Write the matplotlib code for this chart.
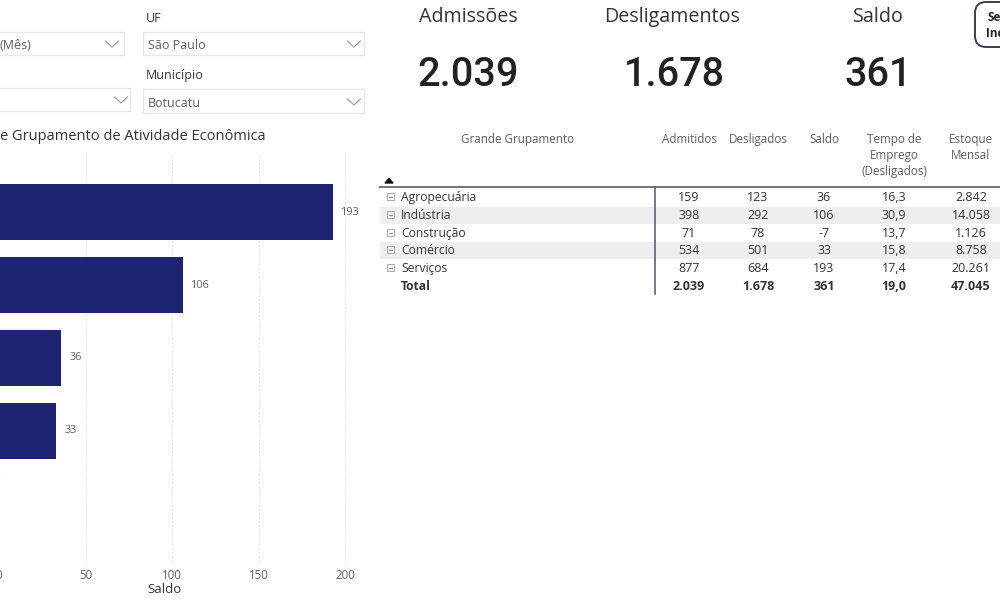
import matplotlib
matplotlib.use('Agg')
import matplotlib.pyplot as plt
from matplotlib.patches import FancyBboxPatch, Rectangle

# %% DATA
groups = ['Serviços', 'Indústria', 'Agropecuária', 'Comércio', 'Construção']
saldo_bars = [193, 106, 36, 33, -7]
x_ticks = [0, 50, 100, 150, 200]

table_rows = ['Agropecuária', 'Indústria', 'Construção', 'Comércio', 'Serviços', 'Total']
admitidos = ['159', '398', '71', '534', '877', '2.039']
desligados = ['123', '292', '78', '501', '684', '1.678']
saldo = ['36', '106', '-7', '33', '193', '361']
tempo = ['16,3', '30,9', '13,7', '15,8', '17,4', '19,0']
estoque = ['2.842', '14.058', '1.126', '8.758', '20.261', '47.045']

kpi_titles = ['Admissões', 'Desligamentos', 'Saldo']
kpi_values = ['2.039', '1.678', '361']

# %% PLOTTING PARAMETERS
W, H = 1000, 600
BAR = '#1f2472'
DARK = '#333333'
GREY = '#5e5e5e'
plt.rcParams['font.family'] = ['Open Sans', 'DejaVu Sans']

fig = plt.figure(figsize=(W/100, H/100), dpi=100, facecolor='white')

# pixel overlay for the dashboard parts
bg = fig.add_axes([0, 0, 1, 1])
bg.set_xlim(0, W)
bg.set_ylim(H, 0)
bg.axis('off')

# %% SLICERS
for x0, x1, y0, y1 in [(-5, 123.5, 32, 55), (-5, 130, 88, 111), (143, 364, 32, 55), (143, 364, 89, 113)]:
    bg.add_patch(Rectangle((x0, y0), x1-x0, y1-y0, fc='white', ec='#e8e8e8', lw=1))
for cx, cy in [(112, 44), (121, 100), (354, 44), (354, 102)]:
    bg.plot([cx-6.5, cx, cx+6.5], [cy-3, cy+3, cy-3], color='#999999', lw=0.8)

bg.text(0, 49, '(Mês)', fontsize=9, color=GREY, va='baseline')
bg.text(148, 49, 'São Paulo', fontsize=9, color=GREY, va='baseline')
bg.text(148, 107, 'Botucatu', fontsize=9, color=GREY, va='baseline')
bg.text(146, 22, 'UF', fontsize=9, color=DARK, va='baseline')
bg.text(146, 79, 'Município', fontsize=9, color=DARK, va='baseline')
bg.text(0, 140, 'e Grupamento de Atividade Econômica', fontsize=10.5, color=DARK, va='baseline')

# %% KPI CARDS
for cx, t in zip([468, 672, 878], kpi_titles):
    bg.text(cx, 22, t, fontsize=14.2, color=DARK, ha='center', va='baseline')
for cx, v in zip([468, 674, 878], kpi_values):
    bg.text(cx, 86, v, fontsize=28.5, color='#222222', ha='center', va='baseline',
            family=['Roboto', 'Open Sans'], fontweight='medium')

bg.add_patch(FancyBboxPatch((975, 2), 50, 45, boxstyle='round,pad=0,rounding_size=11',
                            fc='white', ec='#3b3b5c', lw=1.4))
bg.text(988, 21, 'Se', fontsize=8.5, color='#222222', fontweight='bold', va='baseline')
bg.text(986, 37, 'Inc', fontsize=8.5, color='#222222', fontweight='bold', va='baseline')

# %% TABLE
row_y = [197, 215, 233, 250, 268, 286]
col_x = [689, 758, 824, 894, 971]
for y in [215, 250]:
    bg.add_patch(Rectangle((380, y-8.5), 620, 17.5, fc='#eeeeee', ec='none'))
bg.plot([380, 1000], [187, 187], color='#77777f', lw=1.5)
bg.plot([655, 655], [187, 294], color='#55555f', lw=1.1)
bg.fill([385, 389, 393], [183, 178.5, 183], color='#111111')

bg.text(518, 143, 'Grande Grupamento', fontsize=8.4, color=GREY, ha='center', va='baseline')
headers = ['Admitidos', 'Desligados', 'Saldo', 'Tempo de\nEmprego\n(Desligados)', 'Estoque\nMensal']
for x, h in zip(col_x, headers):
    bg.text(x, 133, h, fontsize=8.4, color=GREY, ha='center', va='top', linespacing=1.28)

columns = [admitidos, desligados, saldo, tempo, estoque]
for i, (y, name) in enumerate(zip(row_y, table_rows)):
    total = name == 'Total'
    wt = 'bold' if total else 'normal'
    bg.text(401, y+4, name, fontsize=8.7, color='#333333', va='baseline', fontweight=wt)
    if not total:
        bg.add_patch(Rectangle((386.5, y-4), 7, 7, fc='none', ec='#aaaaaa', lw=0.7))
        bg.plot([388.5, 391.5], [y-0.5, y-0.5], color='#888888', lw=0.7)
    for x, col in zip(col_x, columns):
        bg.text(x, y+4, col[i], fontsize=9, color='#333333', ha='center', va='baseline', fontweight=wt)

# %% BAR CHART
# axes starts left of the canvas, the category labels are cropped away in the reference
left = -50
right = 360
top, bottom = 155, 565
ax = fig.add_axes([left/W, 1-bottom/H, (right-left)/W, (bottom-top)/H])
ax.patch.set_alpha(0)
ax.set_xlim(-28.4, 208.6)
ax.set_ylim(4.836, -0.781)

ypos = list(range(len(groups)))
ax.barh(ypos, saldo_bars, height=0.767, color=BAR, lw=0, zorder=3)
for y, v in zip(ypos, saldo_bars):
    if v > 0:
        ax.annotate(str(v), (v, y), xytext=(8, 0), textcoords='offset pixels', fontsize=7.8,
                    color=GREY, va='center', zorder=4)

ax.set_xticks(x_ticks)
ax.set_yticks([])
ax.tick_params(axis='x', length=0, labelsize=8.3, labelcolor=GREY, pad=3)
ax.grid(axis='x', color='#e2e2e2', lw=0.8, ls=(0, (1.5, 2)), zorder=0)
for s in ax.spines.values():
    s.set_visible(False)

bg.text(164, 593, 'Saldo', fontsize=9.5, color=DARK, ha='center', va='baseline')

fig.savefig('out.png', dpi=100)
